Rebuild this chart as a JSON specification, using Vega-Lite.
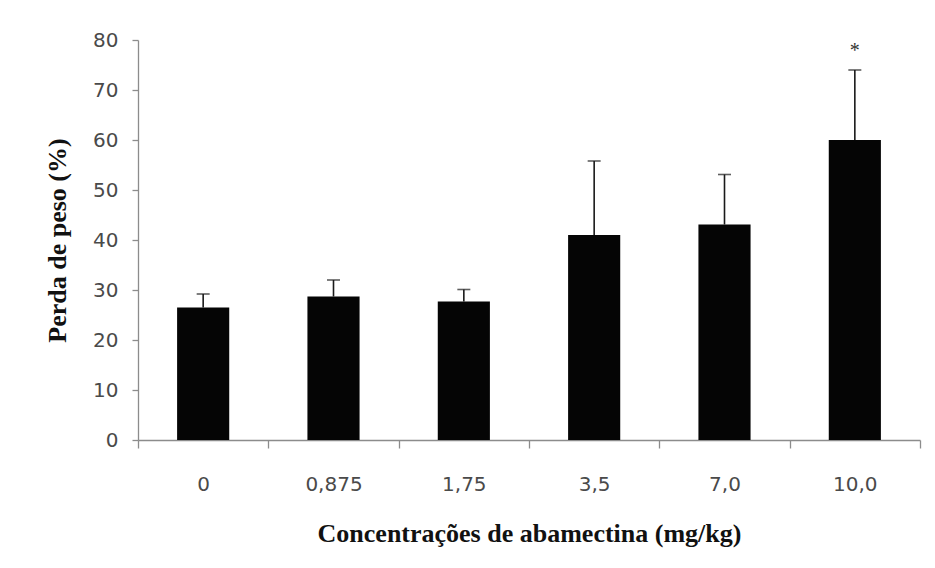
{
  "$schema": "https://vega.github.io/schema/vega-lite/v6.json",
  "width": 782,
  "height": 400,
  "autosize": {"type": "none"},
  "padding": {"left": 138, "top": 40, "right": 15, "bottom": 128},
  "background": "white",
  "data": {
    "values": [
      {"conc": "0", "mean": 26.5, "upper": 29.2, "sig": ""},
      {"conc": "0,875", "mean": 28.7, "upper": 32.0, "sig": ""},
      {"conc": "1,75", "mean": 27.7, "upper": 30.1, "sig": ""},
      {"conc": "3,5", "mean": 41.0, "upper": 55.8, "sig": ""},
      {"conc": "7,0", "mean": 43.1, "upper": 53.1, "sig": ""},
      {"conc": "10,0", "mean": 60.0, "upper": 74.0, "sig": "*"}
    ]
  },
  "encoding": {
    "x": {
      "field": "conc",
      "type": "nominal",
      "sort": null,
      "scale": {"paddingInner": 0, "paddingOuter": 0},
      "axis": {
        "title": "Concentrações de abamectina (mg/kg)",
        "labelAngle": 0,
        "tickBand": "extent",
        "tickSize": 8,
        "labelPadding": 26,
        "titlePadding": 26
      }
    }
  },
  "layer": [
    {
      "mark": {"type": "rule", "stroke": "#1a1a1a", "strokeWidth": 1.6},
      "encoding": {
        "y": {"field": "mean", "type": "quantitative"},
        "y2": {"field": "upper"}
      }
    },
    {
      "mark": {"type": "tick", "color": "#1a1a1a", "size": 13, "thickness": 1.6},
      "encoding": {
        "y": {"field": "upper", "type": "quantitative"}
      }
    },
    {
      "mark": {"type": "bar", "color": "#050505", "width": {"band": 0.4}},
      "encoding": {
        "y": {
          "field": "mean",
          "type": "quantitative",
          "scale": {"domain": [0, 80]},
          "axis": {
            "title": "Perda de peso (%)",
            "values": [0, 10, 20, 30, 40, 50, 60, 70, 80],
            "tickSize": 6,
            "labelPadding": 14,
            "titlePadding": 22
          }
        }
      }
    },
    {
      "mark": {"type": "text", "font": "Liberation Serif", "fontSize": 20, "color": "#333333", "baseline": "middle"},
      "encoding": {
        "y": {"datum": 77.8, "type": "quantitative"},
        "text": {"field": "sig"}
      }
    }
  ],
  "config": {
    "view": {"stroke": null},
    "axis": {
      "grid": false,
      "domainColor": "#8c8c8c",
      "tickColor": "#8c8c8c",
      "domainWidth": 1.3,
      "tickWidth": 1.3,
      "labelFont": "DejaVu Sans",
      "labelFontSize": 20,
      "labelColor": "#4a4a4a",
      "titleFont": "Liberation Serif",
      "titleFontWeight": "bold",
      "titleFontSize": 26,
      "titleColor": "#111111"
    }
  }
}
